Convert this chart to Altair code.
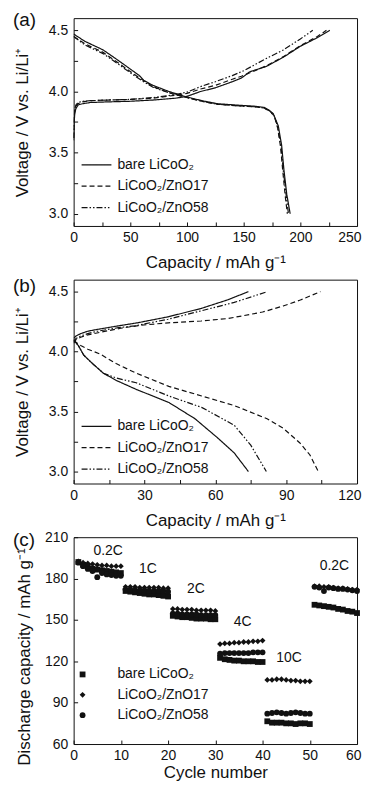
import altair as alt
import pandas as pd

FONT = "Liberation Sans"
SERIES = ["bare LiCoO₂", "LiCoO₂/ZnO17", "LiCoO₂/ZnO58"]
DASHES = [[1, 0], [5, 3], [6, 2, 1.5, 2, 1.5, 2]]

# ---------------- panel (a): 0.2C charge/discharge ----------------
a_bare_chg_cap = [0, 0.5, 1, 2, 4, 8, 15, 30, 50, 70, 90, 100, 112, 125, 140, 148, 151, 155, 160, 170, 185, 200, 215, 226]
a_bare_chg_v = [3.60, 3.75, 3.82, 3.86, 3.89, 3.90, 3.91, 3.915, 3.92, 3.93, 3.945, 3.96, 4.00, 4.03, 4.08, 4.11, 4.13, 4.16, 4.175, 4.205, 4.28, 4.37, 4.44, 4.50]
a_z17_chg_cap = [0, 0.5, 1, 2, 4, 8, 15, 30, 50, 70, 90, 100, 112, 125, 140, 148, 152, 160, 170, 185, 200, 215, 223]
a_z17_chg_v = [3.62, 3.77, 3.84, 3.88, 3.90, 3.915, 3.925, 3.93, 3.935, 3.945, 3.97, 3.985, 4.02, 4.05, 4.10, 4.125, 4.14, 4.17, 4.21, 4.285, 4.375, 4.45, 4.50]
a_z58_chg_cap = [0, 0.5, 1, 2, 4, 8, 15, 30, 50, 70, 90, 100, 112, 125, 140, 150, 160, 170, 185, 200, 211]
a_z58_chg_v = [3.62, 3.78, 3.85, 3.89, 3.91, 3.92, 3.925, 3.93, 3.935, 3.95, 3.975, 3.995, 4.04, 4.08, 4.13, 4.17, 4.22, 4.27, 4.34, 4.43, 4.50]

a_bare_dis_cap = [0, 10, 26, 40, 55, 58, 62, 70, 84, 98, 113, 127, 142, 159, 168, 172, 176, 180.5, 183.5, 185.5, 188, 191]
a_bare_dis_v = [4.47, 4.41, 4.34, 4.25, 4.15, 4.13, 4.09, 4.05, 4.00, 3.96, 3.925, 3.90, 3.89, 3.88, 3.87, 3.85, 3.82, 3.72, 3.56, 3.36, 3.16, 3.00]
a_z17_dis_cap = [0, 10, 26, 40, 55, 60, 70, 84, 98, 113, 127, 142, 159, 168, 173, 177, 180, 182.5, 184.5, 186.5, 188.5]
a_z17_dis_v = [4.45, 4.39, 4.32, 4.23, 4.13, 4.10, 4.04, 3.99, 3.955, 3.92, 3.895, 3.885, 3.875, 3.865, 3.84, 3.80, 3.70, 3.55, 3.35, 3.16, 3.00]
a_z58_dis_cap = [0, 10, 26, 40, 55, 60, 70, 84, 98, 113, 127, 142, 159, 168, 173, 177, 180, 183, 185, 187.5, 189.5]
a_z58_dis_v = [4.45, 4.38, 4.31, 4.22, 4.12, 4.09, 4.035, 3.99, 3.955, 3.92, 3.895, 3.885, 3.875, 3.865, 3.84, 3.80, 3.71, 3.55, 3.35, 3.15, 3.00]

# ---------------- panel (b): 10C charge/discharge ----------------
b_bare_chg_cap = [0, 1, 3, 6, 10, 19, 27, 40, 54, 65, 74]
b_bare_chg_v = [4.11, 4.13, 4.15, 4.17, 4.185, 4.215, 4.24, 4.29, 4.36, 4.43, 4.50]
b_z17_chg_cap = [0, 1, 3, 6, 12.6, 20, 28.5, 40, 54, 65, 72, 80, 88.7, 96, 104.5]
b_z17_chg_v = [4.07, 4.10, 4.12, 4.14, 4.166, 4.195, 4.22, 4.24, 4.255, 4.275, 4.30, 4.33, 4.38, 4.43, 4.50]
b_z58_chg_cap = [0, 1, 3, 6, 10, 19, 26, 40, 54, 68, 82]
b_z58_chg_v = [4.08, 4.11, 4.13, 4.15, 4.17, 4.20, 4.215, 4.27, 4.34, 4.41, 4.50]

b_bare_dis_cap = [0, 2, 4.3, 8, 12.6, 18, 26.5, 40.3, 51.4, 61, 68, 74]
b_bare_dis_v = [4.10, 4.05, 3.97, 3.90, 3.82, 3.76, 3.685, 3.576, 3.44, 3.28, 3.155, 3.00]
b_z17_dis_cap = [0, 3, 6, 11.2, 18, 26.5, 40.3, 54.2, 68, 81.9, 88.8, 95.7, 100, 103.6]
b_z17_dis_v = [4.09, 4.05, 4.02, 3.98, 3.90, 3.82, 3.71, 3.63, 3.55, 3.44, 3.36, 3.24, 3.14, 3.00]
b_z58_dis_cap = [0, 2, 4.3, 8, 12.6, 18, 26.5, 40.3, 54.2, 68, 75, 81.6]
b_z58_dis_v = [4.10, 4.05, 3.97, 3.90, 3.82, 3.78, 3.74, 3.63, 3.535, 3.386, 3.22, 3.00]

# ---------------- panel (c): rate capability ----------------
cycles = list(range(1, 61))
c_bare = [192, 190, 188.5, 187, 186.5, 186, 185.5, 185, 184.5, 184,
          171, 170.5, 170, 169.5, 169, 168.5, 168.5, 168, 167.5, 167,
          153, 152.5, 152, 152, 151.5, 151, 151, 151, 150.5, 150.5,
          122.5, 121.5, 121, 120.5, 120.5, 120, 120, 120, 119.5, 119.5,
          76.5, 75.5, 75.5, 75.5, 75, 75, 74.5, 75, 75, 74.5,
          161, 160.5, 160, 159.5, 159, 158, 157.5, 156.5, 156, 155]
c_z17 = [192.5, 191.5, 191, 190.5, 190, 189.5, 189.5, 189, 189, 189,
         174, 174, 174, 173.5, 173.5, 173.5, 173.5, 173.5, 173, 173,
         158, 158, 157.5, 157.5, 157.5, 157, 157, 157, 157, 156.5,
         132.5, 133, 133, 133.5, 133.5, 134, 134, 134.5, 134.5, 135,
         106.5, 106.5, 107, 107, 106.5, 106, 106, 105.5, 105.5, 105.5,
         174.5, 174.5, 174, 174, 173.5, 173, 173, 172.5, 172, 172]
c_z58 = [191.5, 189, 187, 185.5, 181, 184, 183, 182.5, 182, 182,
         172, 172, 171.5, 171.5, 171.5, 171, 171, 171, 171, 170.5,
         154.5, 154.5, 154, 154, 154, 154, 153.5, 153.5, 153.5, 153.5,
         125.5, 126, 126, 126, 126, 126, 126, 126.5, 126.5, 126.5,
         82, 82.5, 83, 82.5, 82, 82.5, 83, 82.5, 82, 82,
         174, 173.5, 171, 173.5, 173, 172.5, 172.5, 172, 171.5, 171]

rate_labels = ["0.2C", "1C", "2C", "4C", "10C", "0.2C"]
rate_x = [7.3, 15.7, 25.9, 35.8, 45.6, 55.2]
rate_y = [199.8, 186.6, 172.1, 148.3, 122.4, 189.3]

# axis tick values (major labelled, minor unlabelled)
a_xticks = [0, 25, 50, 75, 100, 125, 150, 175, 200, 225, 250]
ab_yticks = [3.0, 3.25, 3.5, 3.75, 4.0, 4.25, 4.5]
b_xticks = [0, 15, 30, 45, 60, 75, 90, 105, 120]
c_xticks = [0, 5, 10, 15, 20, 25, 30, 35, 40, 45, 50, 55, 60]
c_yticks = [60, 75, 90, 105, 120, 135, 150, 165, 180, 195, 210]


def curves(parts):
    rows = []
    for series, branch, caps, vs in parts:
        for i, (c, v) in enumerate(zip(caps, vs)):
            rows.append({"cap": c, "v": v, "series": series, "branch": series + branch, "o": i})
    return pd.DataFrame(rows)


df_a = curves([
    (SERIES[0], "c", a_bare_chg_cap, a_bare_chg_v), (SERIES[0], "d", a_bare_dis_cap, a_bare_dis_v),
    (SERIES[1], "c", a_z17_chg_cap, a_z17_chg_v), (SERIES[1], "d", a_z17_dis_cap, a_z17_dis_v),
    (SERIES[2], "c", a_z58_chg_cap, a_z58_chg_v), (SERIES[2], "d", a_z58_dis_cap, a_z58_dis_v),
])
df_b = curves([
    (SERIES[0], "c", b_bare_chg_cap, b_bare_chg_v), (SERIES[0], "d", b_bare_dis_cap, b_bare_dis_v),
    (SERIES[1], "c", b_z17_chg_cap, b_z17_chg_v), (SERIES[1], "d", b_z17_dis_cap, b_z17_dis_v),
    (SERIES[2], "c", b_z58_chg_cap, b_z58_chg_v), (SERIES[2], "d", b_z58_dis_cap, b_z58_dis_v),
])
df_c = pd.DataFrame({
    "cycle": cycles * 3,
    "cap": c_bare + c_z17 + c_z58,
    "series": [SERIES[0]] * 60 + [SERIES[1]] * 60 + [SERIES[2]] * 60,
})
df_rate = pd.DataFrame({"t": rate_labels, "x": rate_x, "y": rate_y})

W = 285
TICK = 4


def x_axis(title, values, major, fmt, tpad):
    last = values[-1]
    return alt.Axis(title=title, values=values, format=fmt,
                    labelExpr=f"datum.value % {major} == 0 ? datum.label : ''",
                    labelAlign={"condition": {"test": f"datum.value == {last}", "value": "right"},
                                "value": "center"},
                    labelOffset={"condition": {"test": f"datum.value == {last}", "value": 4},
                                 "value": 0},
                    offset=-TICK, tickSize=TICK, domain=False, grid=False,
                    labelPadding=5, titlePadding=tpad, labelFlush=False, labelOverlap=False)


def y_axis(title, values, major, fmt, tpad, title_y=None):
    kw = {}
    if title_y is not None:
        kw["titleY"] = title_y
    return alt.Axis(title=title, values=values, format=fmt,
                    labelExpr=f"datum.value % {major} == 0 ? datum.label : ''",
                    offset=-TICK, tickSize=TICK, domain=False, grid=False,
                    labelPadding=6, titlePadding=tpad, labelOverlap=False, **kw)


def line_legend(ly):
    return alt.Legend(title=None, orient="none", legendX=14.5, legendY=ly,
                      symbolType="M-2,0H2", symbolSize=225, symbolStrokeWidth=1.2,
                      symbolStrokeColor="#111", labelOffset=12.5, rowPadding=5.5,
                      labelFontSize=14, labelFont=FONT, labelColor="#111", padding=0)


def panel_label(txt, dy):
    return alt.Chart(pd.DataFrame({"t": [txt]})).mark_text(
        align="left", baseline="middle", fontSize=19, font=FONT, color="#111"
    ).encode(text="t:N", x=alt.value(-61), y=alt.value(dy))


def voltage_panel(df, xdomain, xticks, xmajor, height, label, dy, ly):
    lines = alt.Chart(df).mark_line(color="#111", strokeWidth=1.2, clip=True).encode(
        x=alt.X("cap:Q", scale=alt.Scale(domain=xdomain, nice=False),
                axis=x_axis("Capacity / mAh g⁻¹", xticks, xmajor, "d", 10)),
        y=alt.Y("v:Q", scale=alt.Scale(domain=[2.9, 4.6], nice=False, zero=False),
                axis=y_axis("Voltage / V vs. Li/Li⁺", ab_yticks, 0.5, ".1f", 17)),
        detail="branch:N",
        order="o:Q",
        strokeDash=alt.StrokeDash("series:N", scale=alt.Scale(domain=SERIES, range=DASHES),
                                  legend=line_legend(ly)),
    )
    return alt.layer(lines, panel_label(label, dy)).properties(width=W, height=height)


chart_a = voltage_panel(df_a, [0, 250], a_xticks, 50, 209, "(a)", 2, 139)
chart_b = voltage_panel(df_b, [0, 120], b_xticks, 30, 205, "(b)", 6, 139)

H_C = 208
pts = alt.Chart(df_c).mark_point(filled=True, color="#111", opacity=1, size=34).encode(
    x=alt.X("cycle:Q", scale=alt.Scale(domain=[0, 60], nice=False),
            axis=x_axis("Cycle number", c_xticks, 10, "d", 2)),
    y=alt.Y("cap:Q", scale=alt.Scale(domain=[60, 210], nice=False, zero=False),
            axis=y_axis("Discharge capacity / mAh g⁻¹", c_yticks, 30, "d", 11, H_C / 2 + 16)),
    shape=alt.Shape("series:N", scale=alt.Scale(domain=SERIES, range=["square", "diamond", "circle"]),
                    legend=alt.Legend(title=None, orient="none", legendX=2, legendY=131,
                                      symbolSize=34, symbolFillColor="#111", symbolStrokeColor="#111",
                                      labelOffset=28, rowPadding=6.5, labelFontSize=14,
                                      labelFont=FONT, labelColor="#111", padding=0)),
)
rates = alt.Chart(df_rate).mark_text(fontSize=14, font=FONT, color="#111").encode(
    x="x:Q", y="y:Q", text="t:N")
chart_c = alt.layer(pts, rates, panel_label("(c)", 3)).properties(width=W, height=H_C)

chart = alt.vconcat(chart_a, chart_b, chart_c, spacing=54, bounds="flush").resolve_scale(
    strokeDash="independent", shape="independent"
).resolve_legend(strokeDash="independent", shape="independent").properties(
    padding={"left": 4, "top": 0, "right": 0, "bottom": 0}, background="white"
).configure_view(stroke="#111", strokeWidth=1).configure_axis(
    labelFont=FONT, labelFontSize=14, labelColor="#111", titleFont=FONT, titleFontSize=17,
    titleFontWeight="normal", titleColor="#111", tickColor="#111", tickWidth=1
)

chart.save("out.html", embed_options={"renderer": "svg", "actions": False})
